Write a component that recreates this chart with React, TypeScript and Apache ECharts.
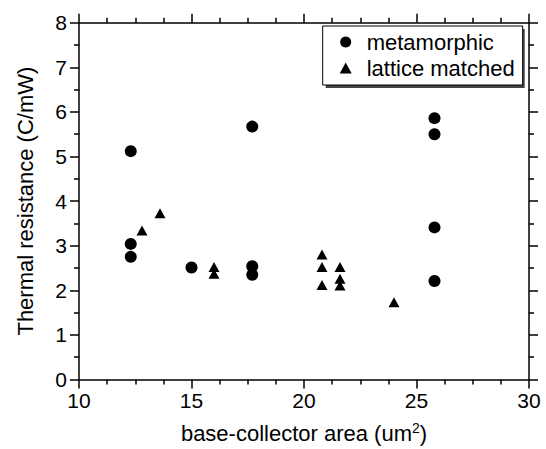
import React, { useEffect, useRef } from "react";
import * as echarts from "echarts";

const metamorphicX = [12.3, 12.3, 12.3, 15.0, 17.7, 17.7, 17.7, 25.8, 25.8, 25.8, 25.8];
const metamorphicY = [5.12, 3.04, 2.75, 2.51, 5.67, 2.54, 2.35, 5.86, 5.5, 3.41, 2.21];
const latticeX = [12.8, 13.6, 16.0, 16.0, 20.8, 20.8, 20.8, 21.6, 21.6, 21.6, 24.0];
const latticeY = [3.34, 3.73, 2.52, 2.37, 2.8, 2.52, 2.12, 2.52, 2.26, 2.11, 1.73];
const seriesNames = ["metamorphic", "lattice matched"];
const seriesSymbols = ["circle", "triangle"];
const xTitle = "base-collector area (um";
const xTitleSup = "2";
const yTitle = "Thermal resistance (C/mW)";

const FONT = "'Liberation Sans', Arial, sans-serif";

export default function App() {
  const ref = useRef<HTMLDivElement>(null);
  useEffect(() => {
    if (!ref.current) return;
    const chart = echarts.init(ref.current, undefined, { renderer: "svg" });
    const axisLine = { show: true, onZero: false, lineStyle: { color: "#000", width: 1.5 } };
    const xBase = {
      type: "value" as const,
      min: 10,
      max: 30,
      interval: 5,
      axisLine,
      axisTick: { show: true, inside: false, length: 9, lineStyle: { color: "#000", width: 1.5 } },
      minorTick: { show: true, splitNumber: 4, length: 5, lineStyle: { color: "#000", width: 1.5 } },
      splitLine: { show: false },
      minorSplitLine: { show: false },
    };
    const yBase = {
      type: "value" as const,
      min: 0,
      max: 8,
      interval: 1,
      axisLine,
      axisTick: { show: true, inside: false, length: 9, lineStyle: { color: "#000", width: 1.5 } },
      minorTick: { show: true, splitNumber: 2, length: 5, lineStyle: { color: "#000", width: 1.5 } },
      splitLine: { show: false },
      minorSplitLine: { show: false },
    };
    chart.setOption({
      animation: false,
      backgroundColor: "#fff",
      textStyle: { fontFamily: FONT, color: "#000" },
      grid: { left: 79, right: 17, top: 22.7, bottom: 66.7 },
      xAxis: [
        {
          ...xBase,
          position: "bottom",
          axisLabel: { color: "#000", fontSize: 21, fontFamily: FONT, margin: 10 },
          name: `{t|${xTitle}}{s|${xTitleSup}}{t|)}`,
          nameLocation: "middle",
          nameGap: 41,
          nameTextStyle: {
            color: "#000",
            fontFamily: FONT,
            fontSize: 22,
            rich: {
              t: { fontSize: 22, fontFamily: FONT, color: "#000", lineHeight: 25 },
              s: { fontSize: 14, fontFamily: FONT, color: "#000", lineHeight: 14, verticalAlign: "top" },
            },
          },
        },
        { ...xBase, position: "top", axisLabel: { show: false } },
      ],
      yAxis: [
        {
          ...yBase,
          position: "left",
          axisLabel: { color: "#000", fontSize: 21, fontFamily: FONT, margin: 12 },
          name: yTitle,
          nameLocation: "middle",
          nameGap: 43,
          nameTextStyle: { color: "#000", fontFamily: FONT, fontSize: 22 },
        },
        { ...yBase, position: "right", axisLabel: { show: false } },
      ],
      legend: {
        data: seriesNames.map((n, i) => ({ name: n, icon: seriesSymbols[i] })),
        orient: "vertical",
        left: 322.7,
        top: 26,
        padding: [5, 8, 6, 17],
        itemGap: 4,
        itemWidth: 12,
        itemHeight: 11,
        backgroundColor: "#fff",
        borderColor: "#000",
        borderWidth: 1,
        z: 10,
        textStyle: {
          color: "#000",
          fontSize: 22,
          fontFamily: FONT,
          lineHeight: 22,
          padding: [0, 0, 0, 10],
        },
        itemStyle: { color: "#000", opacity: 1 },
      },
      graphic: [
        {
          type: "rect",
          z: 5,
          shape: { x: 325.7, y: 29, width: 199, height: 59 },
          style: { fill: "#444" },
        },
      ],
      series: [
        {
          name: seriesNames[0],
          type: "scatter",
          symbol: seriesSymbols[0],
          symbolSize: 12,
          itemStyle: { color: "#000", opacity: 1 },
          data: metamorphicX.map((x, i) => [x, metamorphicY[i]]),
        },
        {
          name: seriesNames[1],
          type: "scatter",
          symbol: seriesSymbols[1],
          symbolSize: [11, 10],
          itemStyle: { color: "#000", opacity: 1 },
          data: latticeX.map((x, i) => [x, latticeY[i]]),
        },
      ],
    });
    return () => chart.dispose();
  }, []);
  return (
    <div
      ref={ref}
      style={{ position: "fixed", left: 0, top: 0, width: 546, height: 449 }}
    />
  );
}
